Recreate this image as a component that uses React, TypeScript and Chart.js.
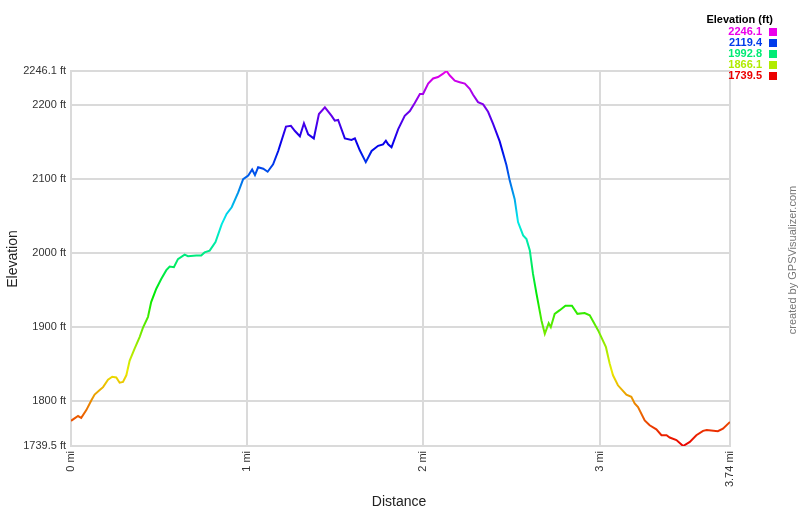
import React, { useEffect, useRef } from 'react';
import { Chart, registerables } from 'chart.js';

Chart.register(...registerables);

const distances = [
  0.000, 0.040, 0.058, 0.087, 0.115, 0.134, 0.163, 0.182, 0.210, 0.234,
  0.257, 0.276, 0.295, 0.314, 0.333, 0.361, 0.390, 0.408, 0.437, 0.455,
  0.484, 0.512, 0.541, 0.560, 0.584, 0.607, 0.645, 0.664, 0.711, 0.739,
  0.758, 0.787, 0.820, 0.855, 0.883, 0.912, 0.949, 0.977, 1.006, 1.028,
  1.044, 1.062, 1.091, 1.116, 1.147, 1.176, 1.220, 1.248, 1.271, 1.299,
  1.322, 1.346, 1.378, 1.407, 1.441, 1.479, 1.497, 1.516, 1.554, 1.592,
  1.611, 1.639, 1.673, 1.706, 1.743, 1.771, 1.787, 1.800, 1.819, 1.857,
  1.894, 1.923, 1.951, 1.980, 1.998, 2.027, 2.055, 2.083, 2.112, 2.131,
  2.150, 2.178, 2.206, 2.235, 2.263, 2.282, 2.310, 2.339, 2.367, 2.395,
  2.433, 2.471, 2.490, 2.518, 2.537, 2.566, 2.585, 2.604, 2.622, 2.642,
  2.670, 2.689, 2.711, 2.723, 2.745, 2.774, 2.806, 2.843, 2.874, 2.915,
  2.944, 2.991, 3.036, 3.057, 3.076, 3.104, 3.152, 3.180, 3.199, 3.218,
  3.256, 3.284, 3.322, 3.351, 3.380, 3.398, 3.436, 3.474, 3.512, 3.549,
  3.587, 3.608, 3.671, 3.700, 3.740,
];

const elevations = [
  1773.5, 1780, 1777.5, 1788, 1801, 1809, 1815, 1819, 1829, 1833,
  1832, 1825, 1826, 1835, 1855, 1871, 1887, 1899, 1914, 1934,
  1952, 1965, 1977, 1982, 1981, 1992, 1998, 1996, 1997, 1997,
  2001, 2003.5, 2015, 2039, 2053, 2062, 2082, 2100, 2105, 2113,
  2105.5, 2116, 2114, 2110, 2120, 2138, 2171, 2172, 2165, 2158,
  2175.5, 2160.5, 2155, 2188, 2197, 2185.5, 2179, 2180, 2155, 2153,
  2155, 2139, 2123, 2138, 2145, 2147, 2152, 2147, 2143, 2167.5,
  2185.5, 2192, 2203, 2215, 2215, 2229, 2236, 2238, 2242.5, 2246.1,
  2240, 2233, 2231, 2229, 2222, 2214, 2204, 2201, 2191, 2175,
  2151, 2119, 2098, 2073, 2042, 2024, 2019, 2003.5, 1972, 1945,
  1909, 1891, 1905.5, 1900, 1918, 1923, 1929, 1929, 1918, 1919,
  1916, 1896, 1873, 1851, 1835, 1821.5, 1809, 1806, 1797, 1792,
  1774, 1767.5, 1762, 1754, 1754, 1751, 1747.5, 1739.5, 1745, 1754,
  1760, 1761, 1759.5, 1763, 1772,
];

const yTickValues = [1739.5, 1800, 1900, 2000, 2100, 2200, 2246.1];
const xTickValues = [0, 1, 2, 3, 3.74];
const legendValues = [2246.1, 2119.4, 1992.8, 1866.1, 1739.5];
const legendTitle = 'Elevation (ft)';
const xTitle = 'Distance';
const yTitle = 'Elevation';
const creditText = 'created by GPSVisualizer.com';

const MIN_E = 1739.5;
const MAX_E = 2246.1;
const FONT = '"Liberation Sans", Arial, sans-serif';

function elevColor(e: number): string {
  const h = (300 * (e - MIN_E)) / (MAX_E - MIN_E);
  return `hsl(${h.toFixed(1)},100%,46%)`;
}

const textPlugin = {
  id: 'extraText',
  afterDraw(chart: any) {
    const ctx = chart.ctx as CanvasRenderingContext2D;
    ctx.save();
    // legend
    ctx.fillStyle = '#000';
    ctx.font = `bold 11px ${FONT}`;
    ctx.textAlign = 'right';
    ctx.textBaseline = 'middle';
    ctx.fillText(legendTitle, 773, 20);
    const rowsY = [32, 43, 54, 65, 76];
    legendValues.forEach((v, i) => {
      const c = elevColor(v);
      ctx.fillStyle = c;
      ctx.font = `bold 11px ${FONT}`;
      ctx.textAlign = 'right';
      ctx.fillText(v.toFixed(1), 762, rowsY[i]);
      ctx.fillRect(769, rowsY[i] - 4, 8, 8);
    });
    // x title
    ctx.fillStyle = '#222';
    ctx.font = `14px ${FONT}`;
    ctx.textAlign = 'center';
    ctx.fillText(xTitle, 399, 502);
    // y title
    ctx.save();
    ctx.translate(13, 259);
    ctx.rotate(-Math.PI / 2);
    ctx.font = `14px ${FONT}`;
    ctx.fillText(yTitle, 0, 0);
    ctx.restore();
    // credit
    ctx.save();
    ctx.translate(793, 260);
    ctx.rotate(-Math.PI / 2);
    ctx.fillStyle = '#777';
    ctx.font = `11px ${FONT}`;
    ctx.textAlign = 'center';
    ctx.fillText(creditText, 0, 0);
    ctx.restore();
    ctx.restore();
  },
};

export default function App() {
  const ref = useRef<HTMLCanvasElement | null>(null);

  useEffect(() => {
    if (!ref.current) return;
    const points = distances.map((d, i) => ({ x: d, y: elevations[i] }));
    const chart = new Chart(ref.current, {
      type: 'line',
      data: {
        datasets: [
          {
            data: points,
            borderWidth: 2,
            pointRadius: 0,
            tension: 0,
            borderColor: (c: any) => {
              const area = c.chart.chartArea;
              if (!area) return '#f00';
              const g = c.chart.ctx.createLinearGradient(0, area.bottom, 0, area.top);
              for (let i = 0; i <= 20; i++) {
                const e = MIN_E + ((MAX_E - MIN_E) * i) / 20;
                g.addColorStop(i / 20, elevColor(e));
              }
              return g;
            },
          },
        ],
      },
      options: {
        animation: false,
        responsive: false,
        devicePixelRatio: 1,
        layout: { padding: { left: 0, top: 71, right: 70, bottom: 0 } },
        plugins: { legend: { display: false }, tooltip: { enabled: false } },
        scales: {
          x: {
            type: 'linear',
            min: 0,
            max: 3.74,
            afterBuildTicks: (s: any) => {
              s.ticks = xTickValues.map((v) => ({ value: v }));
            },
            afterFit: (s: any) => {
              s.height = 71;
            },
            grid: { color: '#dadada', lineWidth: 2, drawTicks: false },
            border: { color: '#dadada', width: 2 },
            ticks: {
              autoSkip: false,
              minRotation: 90,
              maxRotation: 90,
              padding: 5,
              color: '#333',
              font: { family: FONT, size: 11 },
              callback: (v: any) => `${v} mi`,
            },
          },
          y: {
            type: 'linear',
            min: MIN_E,
            max: MAX_E,
            afterBuildTicks: (s: any) => {
              s.ticks = yTickValues.map((v) => ({ value: v }));
            },
            afterFit: (s: any) => {
              s.width = 71;
            },
            grid: { color: '#dadada', lineWidth: 2, drawTicks: false },
            border: { color: '#dadada', width: 2 },
            ticks: {
              autoSkip: false,
              padding: 5,
              color: '#333',
              font: { family: FONT, size: 11 },
              callback: (v: any) => `${v} ft`,
            },
          },
        },
      },
      plugins: [textPlugin],
    });
    return () => chart.destroy();
  }, []);

  return (
    <div style={{ position: 'absolute', left: 0, top: 0, width: 800, height: 517, background: '#fff' }}>
      <canvas ref={ref} width={800} height={517} style={{ display: 'block' }} />
    </div>
  );
}
